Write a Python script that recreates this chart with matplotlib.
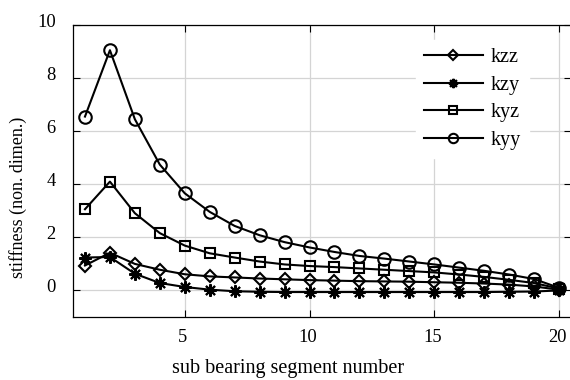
# stiffness coefficients along the sub bearing segments

import matplotlib
matplotlib.use("Agg")
import matplotlib.pyplot as plt
import matplotlib.transforms as mtransforms

segment = list(range(1, 21))
kzz = [0.94, 1.42, 1.00, 0.78, 0.61, 0.53, 0.49, 0.45, 0.42, 0.39,
       0.37, 0.35, 0.34, 0.33, 0.31, 0.29, 0.26, 0.22, 0.15, 0.03]
kzy = [1.24, 1.26, 0.63, 0.28, 0.13, 0.03, -0.03, -0.05, -0.06, -0.06,
       -0.06, -0.06, -0.06, -0.06, -0.06, -0.06, -0.06, -0.05, -0.04, 0.0]
kyz = [3.06, 4.10, 2.91, 2.16, 1.69, 1.40, 1.24, 1.09, 0.98, 0.92,
       0.88, 0.83, 0.78, 0.73, 0.68, 0.60, 0.51, 0.40, 0.28, 0.07]
kyy = [6.55, 9.05, 6.45, 4.74, 3.66, 2.96, 2.43, 2.08, 1.82, 1.62,
       1.45, 1.30, 1.20, 1.09, 0.98, 0.86, 0.74, 0.60, 0.43, 0.10]

plt.rcParams['font.family'] = ['Liberation Serif', 'DejaVu Serif']
plt.rcParams['font.size'] = 13.3

W, H = 570, 380
fig = plt.figure(figsize=(W / 100, H / 100), dpi=100)
left, right, top, bottom = 72.5, 571.5, 25, 317
ax = fig.add_axes([left / W, 1 - bottom / H, (right - left) / W, (bottom - top) / H])

style = dict(color='black', lw=1.5, markerfacecolor='none', markeredgewidth=1.5)
ax.plot(segment, kzz, marker='D', markersize=6.5, label='kzz', **style)
ax.plot(segment, kzy, marker=(8, 2, 0), markersize=9, label='kzy', **style)
ax.plot(segment, kyz, marker='s', markersize=7.5, label='kyz', **style)
ax.plot(segment, kyy, marker='o', markersize=9, label='kyy', **style)

ax.set_xlim(0.5, 20.5)
ax.set_ylim(-1, 10)
ax.set_xticks([5, 10, 15, 20])
ax.set_yticks([0, 2, 4, 6, 8, 10])
ax.grid(True, color='#d4d4d4', lw=0.9)
ax.set_axisbelow(True)
ax.tick_params(direction='in', top=True, right=True, length=5, width=0.8)
ax.tick_params(axis='y', pad=12)
ax.tick_params(axis='x', pad=8.5)
for sp in ax.spines.values():
    sp.set_linewidth(0.9)

# nudge tick labels a little
dy = mtransforms.ScaledTranslation(0, 5 / 100, fig.dpi_scale_trans)
for lab in ax.get_yticklabels():
    lab.set_transform(lab.get_transform() + dy)
dx = mtransforms.ScaledTranslation(-2 / 100, 0, fig.dpi_scale_trans)
for lab in ax.get_xticklabels():
    lab.set_transform(lab.get_transform() + dx)

ax.set_xlabel("sub bearing segment number", va='center', fontsize=14.5)
ax.xaxis.set_label_coords((288 - left) / (right - left), (bottom - 369) / (bottom - top))
ax.set_ylabel("stiffness (non. dimen.)", va='center', fontsize=13)
ax.yaxis.set_label_coords((18.5 - left) / (right - left), (bottom - 197) / (bottom - top))

leg = ax.legend(loc='upper right', bbox_to_anchor=((529 - left) / (right - left), (bottom - 40) / (bottom - top)),
                borderaxespad=0, frameon=True, fancybox=False, edgecolor='white', framealpha=1,
                handlelength=2.9, handletextpad=0.4, labelspacing=0.42, markerscale=0.75, fontsize=14.5)

fig.savefig("out.png", dpi=100)
